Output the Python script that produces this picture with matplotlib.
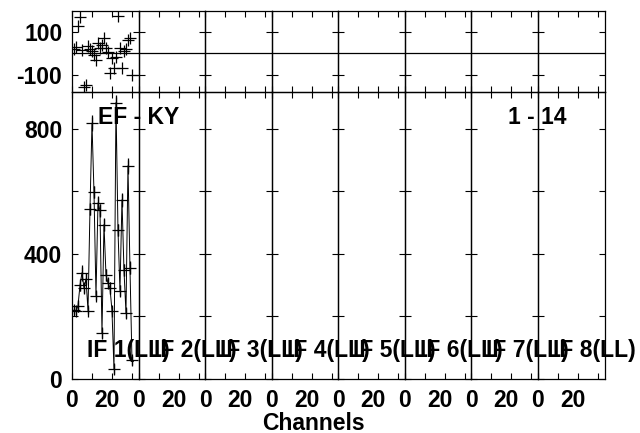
import matplotlib
matplotlib.use('Agg')
import matplotlib.pyplot as plt
import matplotlib.transforms as mtransforms
import numpy as np

plt.rcParams['font.family'] = ['Liberation Sans', 'DejaVu Sans']
plt.rcParams['font.weight'] = 'bold'

# data for IF 1, the other IFs are empty
channels = np.arange(1, 31)
amp = [220, 219, 234, 300, 340, 291, 320, 219, 544, 818,
       598, 267, 563, 539, 147, 494, 333, 307, 291, 219,
       32, 884, 477, 283, 573, 349, 211, 682, 356, 60]
amp_err = [12, 15, 20, 18, 25, 15, 20, 12, 20, 25,
           18, 15, 22, 20, 15, 20, 18, 15, 18, 12,
           15, 25, 20, 18, 22, 18, 15, 25, 20, 15]
phase = [22, 30, 126, 168, 15, -155, -147, 33, 20, 9,
         -6, -30, 48, 25, 40, 72, 25, 5, -92, -22,
         -69, -15, 173, 25, -69, 9, 20, 64, 72, -100]
if_labels = ['IF 1(LL)', 'IF 2(LL)', 'IF 3(LL)', 'IF 4(LL)',
             'IF 5(LL)', 'IF 6(LL)', 'IF 7(LL)', 'IF 8(LL)']
baseline = 'EF - KY'
timerange = '1 - 14'

W, H = 640, 433
fig = plt.figure(figsize=(W / 100, H / 100), dpi=100)

left, right = 72, 604.5
pw = (right - left) / 8
top_y0, top_y1 = 11.3, 92.3
bot_y1 = 379

def fx(px):
    return px / W

def fy(py):
    return 1 - py / H

fs = 16.5
for i in range(8):
    x0 = left + i * pw
    axp = fig.add_axes([fx(x0), fy(top_y1), fx(pw), (top_y1 - top_y0) / H])
    axa = fig.add_axes([fx(x0), fy(bot_y1), fx(pw), (bot_y1 - top_y1) / H])
    for ax in (axp, axa):
        ax.patch.set_visible(False)
        ax.set_xlim(0, 33.3)
        ax.set_xticks([0, 10, 20, 30])
        ax.tick_params(direction='in', length=4.5, width=0.8, top=True, right=True,
                       labelsize=fs, pad=7)
        for s in ax.spines.values():
            s.set_linewidth(0.9)
    axp.set_ylim(-182, 196)
    axp.set_yticks([-100, 100])
    axp.axhline(0, color='black', lw=0.9)
    axa.set_ylim(0, 917)
    axa.set_yticks([0, 200, 400, 600, 800])
    axp.set_xticklabels([])
    axa.set_xticklabels(['0', '', '20', ''])
    off = mtransforms.ScaledTranslation(-5 / 100, 0, fig.dpi_scale_trans)
    lab = axa.get_xticklabels()[2]
    lab.set_transform(lab.get_transform() + off)
    if i == 0:
        axp.set_yticklabels(['-100', '100'])
        axa.set_yticklabels(['0', '', '400', '', '800'])
        axp.plot(channels, phase, ls='none', marker='+', ms=8, mew=0.9, color='black')
        axa.errorbar(channels, amp, yerr=amp_err, fmt='-', color='black', lw=0.7,
                     elinewidth=0.9, capsize=0)
        axa.plot(channels, amp, ls='none', marker='+', ms=8, mew=0.9, color='black')
    else:
        axp.set_yticklabels([])
        axa.set_yticklabels([])
    axa.text(15 / pw, (bot_y1 - 350) / (bot_y1 - top_y1), if_labels[i],
             transform=axa.transAxes, fontsize=fs, fontweight='bold',
             ha='left', va='center', clip_on=False, zorder=10)

fig.text(fx(138.5), fy(117), baseline, fontsize=fs, fontweight='bold',
         ha='center', va='center')
fig.text(fx(537.5), fy(117.5), timerange, fontsize=fs, fontweight='bold',
         ha='center', va='center')
fig.text(fx(313), fy(423), 'Channels', fontsize=fs, fontweight='bold',
         ha='center', va='center')

fig.savefig('out.png', dpi=100)
